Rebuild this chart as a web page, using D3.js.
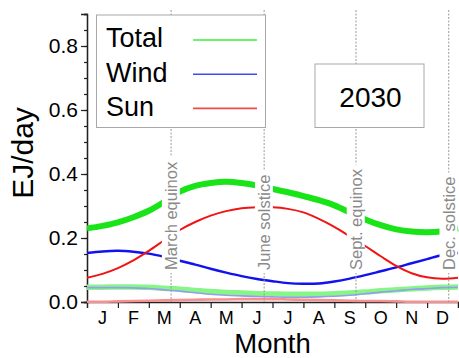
<!DOCTYPE html>
<html>
<head>
<meta charset="utf-8">
<script src="https://cdn.jsdelivr.net/npm/d3@7"></script>
<style>
  html, body { margin: 0; padding: 0; background: #fff; }
  svg { display: block; font-family: "Liberation Sans", Arial, sans-serif; }
</style>
</head>
<body>
<svg id="chart" width="459" height="358"></svg>
<script>
// Position along the year, in months from 1 January (half-month steps)
const monthPos = d3.range(0, 12.01, 0.5);
const monthLabels = ["J", "F", "M", "A", "M", "J", "J", "A", "S", "O", "N", "D"];

// 2030 daily output, EJ/day
const total2030 = [0.230, 0.238, 0.249, 0.265, 0.285, 0.313, 0.345, 0.363, 0.372, 0.376, 0.372, 0.364, 0.353,
                   0.343, 0.331, 0.318, 0.302, 0.280, 0.258, 0.240, 0.227, 0.220, 0.218, 0.221, 0.230];
const wind2030  = [0.153, 0.158, 0.160, 0.157, 0.151, 0.141, 0.129, 0.117, 0.104, 0.092, 0.081, 0.072, 0.065,
                   0.059, 0.057, 0.058, 0.064, 0.073, 0.084, 0.096, 0.108, 0.121, 0.134, 0.147, 0.153];
const sun2030   = [0.076, 0.088, 0.106, 0.130, 0.160, 0.193, 0.225, 0.250, 0.270, 0.284, 0.293, 0.296, 0.296,
                   0.291, 0.280, 0.260, 0.235, 0.205, 0.175, 0.143, 0.113, 0.090, 0.077, 0.073, 0.076];

// Present-day daily output, EJ/day (pale curves)
const totalNow = [0.046, 0.046, 0.047, 0.047, 0.046, 0.043, 0.040, 0.036, 0.033, 0.030, 0.028, 0.026, 0.025,
                  0.024, 0.024, 0.024, 0.026, 0.028, 0.031, 0.035, 0.038, 0.041, 0.044, 0.046, 0.047];
const windNow  = [0.045, 0.045, 0.045, 0.044, 0.042, 0.038, 0.034, 0.029, 0.024, 0.021, 0.019, 0.017, 0.016,
                  0.015, 0.015, 0.016, 0.018, 0.021, 0.026, 0.031, 0.035, 0.039, 0.042, 0.045, 0.046];
const sunNow   = [0.001, 0.001, 0.002, 0.003, 0.004, 0.005, 0.006, 0.007, 0.008, 0.008, 0.009, 0.009, 0.009,
                  0.008, 0.007, 0.006, 0.005, 0.004, 0.003, 0.003, 0.002, 0.001, 0.001, 0.001, 0.001];

// Equinoxes and solstices (months from 1 January)
const eventNames = ["March equinox", "June solstice", "Sept. equinox", "Dec. solstice"];
const eventPos = [2.72, 5.73, 8.70, 11.70];

const yMajorTicks = [0, 0.2, 0.4, 0.6, 0.8];
const legendNames = ["Total", "Wind", "Sun"];
const yearLabel = "2030";

const svg = d3.select("#chart");
const x = d3.scaleLinear().domain([0, 12]).range([87, 458]);
const y = d3.scaleLinear().domain([0, 0.9]).range([302, 14]);

const line = vals => d3.line()
  .x((d, i) => x(monthPos[i]))
  .y(d => y(d))
  .curve(d3.curveCatmullRom.alpha(0.5))(vals);

const series = [
  { v: totalNow, color: "#86f786", w: 5.5 },
  { v: windNow,  color: "#9a9af5", w: 1.6 },
  { v: sunNow,   color: "#f79090", w: 2.6 },
  { v: total2030, color: "#18e418", w: 6 },
  { v: wind2030,  color: "#1212ee", w: 2.4 },
  { v: sun2030,   color: "#f01414", w: 2.0 }
];

// Axes
const yAxis = svg.append("g").attr("transform", `translate(${x(0)},0)`);
yAxis.call(d3.axisLeft(y).tickValues(d3.range(0, 0.901, 0.05)).tickSize(3).tickFormat(""));
yAxis.call(g => g.append("g").call(d3.axisLeft(y).tickValues(yMajorTicks).tickSize(6).tickFormat(d3.format(".1f")).tickPadding(3)));
const xAxis = svg.append("g").attr("transform", `translate(0,${y(0)})`);
xAxis.call(d3.axisBottom(x).tickValues(d3.range(0, 13)).tickSize(6).tickFormat(""));
svg.selectAll(".domain").attr("stroke", "#222").attr("stroke-width", 1.3);
svg.selectAll(".tick line").attr("stroke", "#222").attr("stroke-width", 1.2);
yAxis.selectAll("text").attr("font-size", 21).attr("fill", "#000")
  .attr("font-family", "Liberation Sans, Arial, sans-serif");

svg.append("g").selectAll("text").data(monthLabels).join("text")
  .attr("x", (d, i) => x(i + 0.5)).attr("y", 324)
  .attr("text-anchor", "middle").attr("font-size", 18).text(d => d);

// Curves
svg.append("g").selectAll("path").data(series).join("path")
  .attr("d", d => line(d.v))
  .attr("fill", "none").attr("stroke", d => d.color).attr("stroke-width", d => d.w)
  .attr("stroke-linejoin", "round");

// Event markers
svg.append("g").selectAll("line").data(eventPos).join("line")
  .attr("x1", d => x(d)).attr("x2", d => x(d)).attr("y1", 10).attr("y2", y(0))
  .attr("stroke", "#9a9a9a").attr("stroke-width", 1).attr("stroke-dasharray", "2,1.5");

const ev = svg.append("g").selectAll("g").data(eventNames).join("g")
  .attr("transform", (d, i) => `translate(${x(eventPos[i])},270) rotate(-90)`);
ev.append("rect");
ev.append("text").attr("x", 0).attr("y", 0).attr("dy", "0.35em")
  .attr("font-size", 16.5).attr("fill", "#8a8a8a").text(d => d);
ev.each(function () {
  const g = d3.select(this);
  const b = g.select("text").node().getBBox();
  g.select("rect").attr("x", b.x - 3).attr("y", b.y).attr("width", b.width + 7).attr("height", b.height)
    .attr("fill", "#fff");
});

// Legend
const lg = svg.append("g");
lg.append("rect").attr("x", 96.5).attr("y", 15).attr("width", 169).attr("height", 112.5)
  .attr("fill", "#fff").attr("stroke", "#a8a8a8").attr("stroke-width", 1);
const legendColors = ["#3cf03c", "#4848f0", "#f24a4a"];
legendNames.forEach((name, i) => {
  lg.append("text").attr("x", 106).attr("y", 47 + i * 34.7).attr("font-size", 27).text(name);
  lg.append("line").attr("x1", 193).attr("x2", 257).attr("y1", 40 + i * 34.2).attr("y2", 40 + i * 34.2)
    .attr("stroke", legendColors[i]).attr("stroke-width", 1.6);
});

// Year box
svg.append("rect").attr("x", 315).attr("y", 64).attr("width", 109).attr("height", 63.5)
  .attr("fill", "#fff").attr("stroke", "#a8a8a8").attr("stroke-width", 1);
svg.append("text").attr("x", 370.5).attr("y", 106.5).attr("text-anchor", "middle")
  .attr("font-size", 28).text(yearLabel);

// Axis titles
svg.append("text").attr("x", 272.5).attr("y", 353).attr("text-anchor", "middle")
  .attr("font-size", 27.5).text("Month");
svg.append("text").attr("transform", "translate(33,153) rotate(-90)").attr("text-anchor", "middle")
  .attr("font-size", 30).text("EJ/day");
</script>
</body>
</html>
